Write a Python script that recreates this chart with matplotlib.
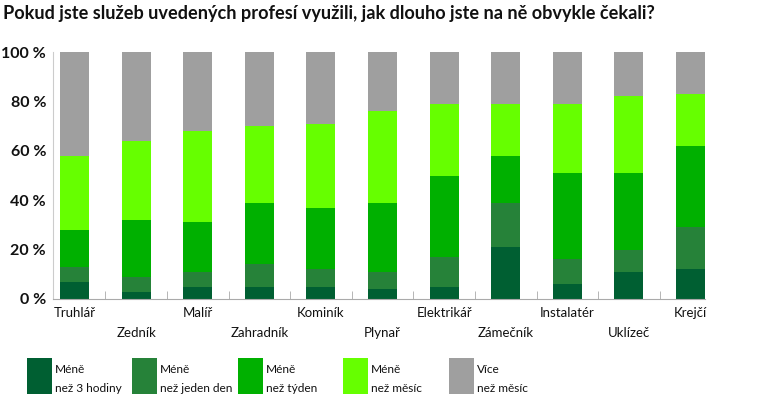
import matplotlib.pyplot as plt
from matplotlib.patches import Rectangle
import numpy as np

plt.rcParams['font.family'] = ['Lato', 'DejaVu Sans']

categories = ['Truhlář', 'Zedník', 'Malíř', 'Zahradník', 'Kominík', 'Plynař',
              'Elektrikář', 'Zámečník', 'Instalatér', 'Uklízeč', 'Krejčí']

# shares in % per waiting time group
under_3h    = [7, 3, 5, 5, 5, 4, 5, 21, 6, 11, 12]
under_day   = [6, 6, 6, 9, 7, 7, 12, 18, 10, 9, 17]
under_week  = [15, 23, 20, 25, 25, 28, 33, 19, 35, 31, 33]
under_month = [30, 32, 37, 31, 34, 37, 29, 21, 28, 31, 21]
over_month  = [42, 36, 32, 30, 29, 24, 21, 21, 21, 18, 17]

series = [under_3h, under_day, under_week, under_month, over_month]
series_labels = ['Méně\nnež 3 hodiny', 'Méně\nnež jeden den', 'Méně\nnež týden',
                 'Méně\nnež měsíc', 'Více\nnež měsíc']
colors = ['#005f32', '#268239', '#00b000', '#66ff00', '#9f9f9f']

W, H = 760, 396
fig = plt.figure(figsize=(W / 100, H / 100), dpi=100)
ax = fig.add_axes([53 / W, 97 / H, (705 - 53) / W, (299 - 52) / H])

x = np.arange(len(categories))
bottom = np.zeros(len(categories))
for vals, col in zip(series, colors):
    ax.bar(x, vals, bottom=bottom, width=0.47, color=col, zorder=2)
    bottom += np.array(vals)

ax.set_xlim(-0.35, len(categories) - 1 + 0.235)
ax.set_ylim(0, 100)

for s in ['top', 'right']:
    ax.spines[s].set_visible(False)
ax.spines['left'].set_color('#cccccc')
ax.spines['bottom'].set_color('#aaaaaa')

ax.set_yticks([0, 20, 40, 60, 80, 100])
ax.set_yticklabels(['0 %', '20 %', '40 %', '60 %', '80 %', '100 %'],
                   fontsize=11.5, fontweight='bold', color='#111111')
ax.tick_params(axis='y', length=0, pad=5)

# category labels in two staggered rows
ax.set_xticks(x)
ax.set_xticklabels([c if i % 2 == 0 else '\n' + c for i, c in enumerate(categories)],
                   fontsize=9.5, color='#111111', linespacing=1.75)
ax.tick_params(axis='x', length=0, pad=6)
# small separators between categories
ax.set_xticks(x[:-1] + 0.5, minor=True)
ax.tick_params(axis='x', which='minor', direction='in', length=6, color='#aaaaaa')

fig.text(3 / W, 1 - 13 / H, 'Pokud jste služeb uvedených profesí využili, jak dlouho jste na ně obvykle čekali?',
         fontsize=13.1, fontweight='bold', color='#111111', va='center', ha='left')

# legend drawn in pixel coordinates
lax = fig.add_axes([0, 0, 1, 1], zorder=-1)
lax.set_xlim(0, W)
lax.set_ylim(H, 0)
lax.axis('off')
leg_x = [27, 132, 238, 343, 449]
for lx, col, lab in zip(leg_x, colors, series_labels):
    lax.add_patch(Rectangle((lx, 358), 25, 36, facecolor=col, edgecolor='none'))
    lax.text(lx + 28, 379, lab, fontsize=8.6, color='#111111', va='center', ha='left',
             linespacing=1.85)

fig.savefig('out.png', dpi=100)
